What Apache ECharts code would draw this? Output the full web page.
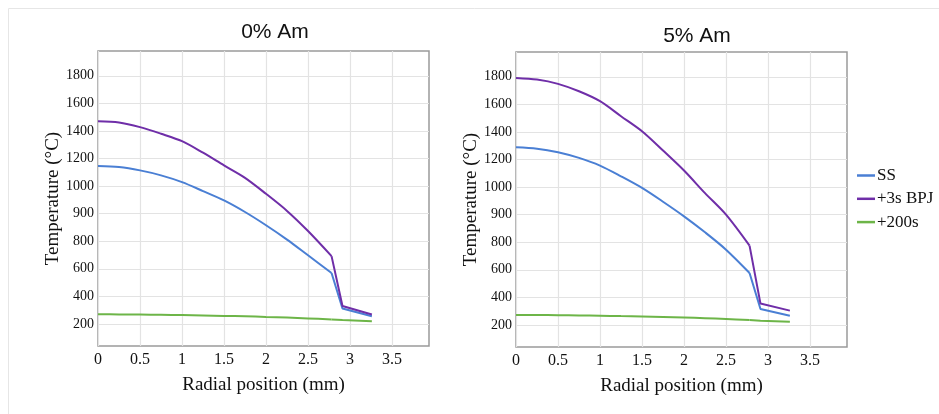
<!DOCTYPE html>
<html>
<head>
<meta charset="utf-8">
<script src="https://cdn.jsdelivr.net/npm/echarts@6/dist/echarts.min.js"></script>
<style>
html,body{margin:0;padding:0;background:#fff;}
#chart{width:939px;height:414px;}
</style>
</head>
<body>
<div id="chart"></div>
<script>
// ---- data ----
const panelTitles = ['0% Am', '5% Am'];
const seriesNames = ['SS', '+3s BPJ', '+200s'];
const yTickLabels = [200, 400, 600, 800, 900, 1000, 1200, 1400, 1600, 1800];
const xTickValues = [0, 0.5, 1, 1.5, 2, 2.5, 3, 3.5];
const radialPos = [0, 0.25, 0.5, 0.75, 1, 1.25, 1.5, 1.75, 2, 2.25, 2.5, 2.78, 2.91, 3.26];

const am0_SS     = [1145, 1138, 1114, 1078, 1029, 982, 948, 906, 858, 806, 698, 570, 312, 256];
const am0_BPJ    = [1471, 1462, 1428, 1380, 1326, 1242, 1150, 1060, 972, 910, 837, 692, 330, 268];
const am0_200s   = [270, 269, 268, 266, 264, 261, 258, 256, 251, 246, 240, 233, 229, 220];

const am5_SS     = [1289, 1279, 1253, 1212, 1156, 1078, 997, 947, 894, 836, 746, 577, 316, 267];
const am5_BPJ    = [1792, 1780, 1749, 1695, 1623, 1514, 1405, 1265, 1120, 978, 900, 775, 355, 304];
const am5_200s   = [273, 272, 271, 269, 267, 264, 262, 258, 254, 249, 243, 236, 231, 224];

const colors = ['#4a7fd4', '#6f2ea8', '#6db548'];
const kinkIndex = 11; // sharp corner at the fuel/clad boundary

// The printed temperature axis has evenly spaced gridlines carrying uneven labels;
// map °C onto that tick scale by interpolating between tick labels.
function toTickScale(v) {
  const L = yTickLabels;
  let i = 0;
  if (v <= L[0]) i = 0;
  else if (v >= L[L.length - 1]) i = L.length - 2;
  else { while (!(v >= L[i] && v <= L[i + 1])) i++; }
  return (i + 1) + (v - L[i]) / (L[i + 1] - L[i]);
}
function pts(vals, from, to) {
  const out = [];
  for (let k = from; k <= to; k++) out.push([radialPos[k], toTickScale(vals[k])]);
  return out;
}

const panels = [
  { data: [am0_SS, am0_BPJ, am0_200s], grid: { left: 98, top: 51, width: 331, height: 295 }, titleX: 270, titleY: 27 },
  { data: [am5_SS, am5_BPJ, am5_200s], grid: { left: 516, top: 52, width: 331, height: 295 }, titleX: 692, titleY: 31.5 }
];

const serif = 'Liberation Serif, Times New Roman, serif';
const sans = 'Liberation Sans, Arial, Helvetica, sans-serif';
const tickIdx = yTickLabels.map((_, i) => i + 1);

const option = {
  animation: false,
  backgroundColor: '#fff',
  color: colors,
  title: panels.map((p, i) => ({
    text: panelTitles[i],
    left: p.titleX, top: p.titleY, textAlign: 'center', textVerticalAlign: 'middle',
    textStyle: { fontFamily: sans, fontSize: 21, fontWeight: 'normal', color: '#111' }
  })),
  graphic: [{
    type: 'rect', shape: { x: 8.5, y: 8.5, width: 1000, height: 500 },
    style: { fill: 'none', stroke: '#e6e6e6', lineWidth: 1 }, silent: true, z: -10
  }],
  legend: {
    orient: 'vertical', left: 857, top: 166.5, padding: 0,
    data: seriesNames,
    icon: 'rect', itemWidth: 18, itemHeight: 2.5, itemGap: 5.3,
    textStyle: { fontFamily: serif, fontSize: 17, color: '#111', padding: [0, 0, 0, -3], lineHeight: 18 }
  },
  grid: panels.map(p => Object.assign({ show: true, borderColor: '#9a9a9a', borderWidth: 1.5, backgroundColor: 'transparent' }, p.grid)),
  xAxis: panels.map((p, i) => ({
    type: 'value', gridIndex: i, min: 0, max: 3.94, interval: 0.5,
    name: 'Radial position (mm)', nameLocation: 'middle', nameGap: 30,
    nameTextStyle: { fontFamily: serif, fontSize: 19, color: '#111' },
    axisLine: { show: false },
    axisTick: { show: false, customValues: xTickValues },
    axisLabel: {
      fontFamily: serif, fontSize: 16, color: '#111', margin: 6, showMaxLabel: true,
      customValues: xTickValues
    },
    splitLine: { show: true, lineStyle: { color: '#e3e3e3', width: 1.2 } }
  })),
  yAxis: panels.map((p, i) => ({
    type: 'value', gridIndex: i, min: 0.2, max: 10.9,
    name: 'Temperature (°C)', nameLocation: 'middle', nameGap: 35,
    nameTextStyle: { fontFamily: serif, fontSize: 19, color: '#111' },
    axisLine: { show: false },
    axisTick: { show: false, customValues: tickIdx },
    axisLabel: {
      fontFamily: serif, fontSize: 14, color: '#111', margin: 4,
      customValues: tickIdx,
      formatter: v => String(yTickLabels[Math.round(v) - 1])
    },
    splitLine: { show: true, lineStyle: { color: '#e3e3e3', width: 1.2 } }
  })),
  series: []
};

panels.forEach((p, i) => {
  p.data.forEach((vals, s) => {
    const common = {
      type: 'line', name: seriesNames[s], xAxisIndex: i, yAxisIndex: i,
      showSymbol: false, symbol: 'none',
      lineStyle: { width: 2, color: colors[s] }, itemStyle: { color: colors[s] }
    };
    option.series.push(Object.assign({}, common, { data: pts(vals, 0, kinkIndex), smooth: 0.3 }));
    option.series.push(Object.assign({}, common, { data: pts(vals, kinkIndex, radialPos.length - 1), smooth: false }));
  });
});

const chart = echarts.init(document.getElementById('chart'), null, { renderer: 'canvas' });
chart.setOption(option);
</script>
</body>
</html>
